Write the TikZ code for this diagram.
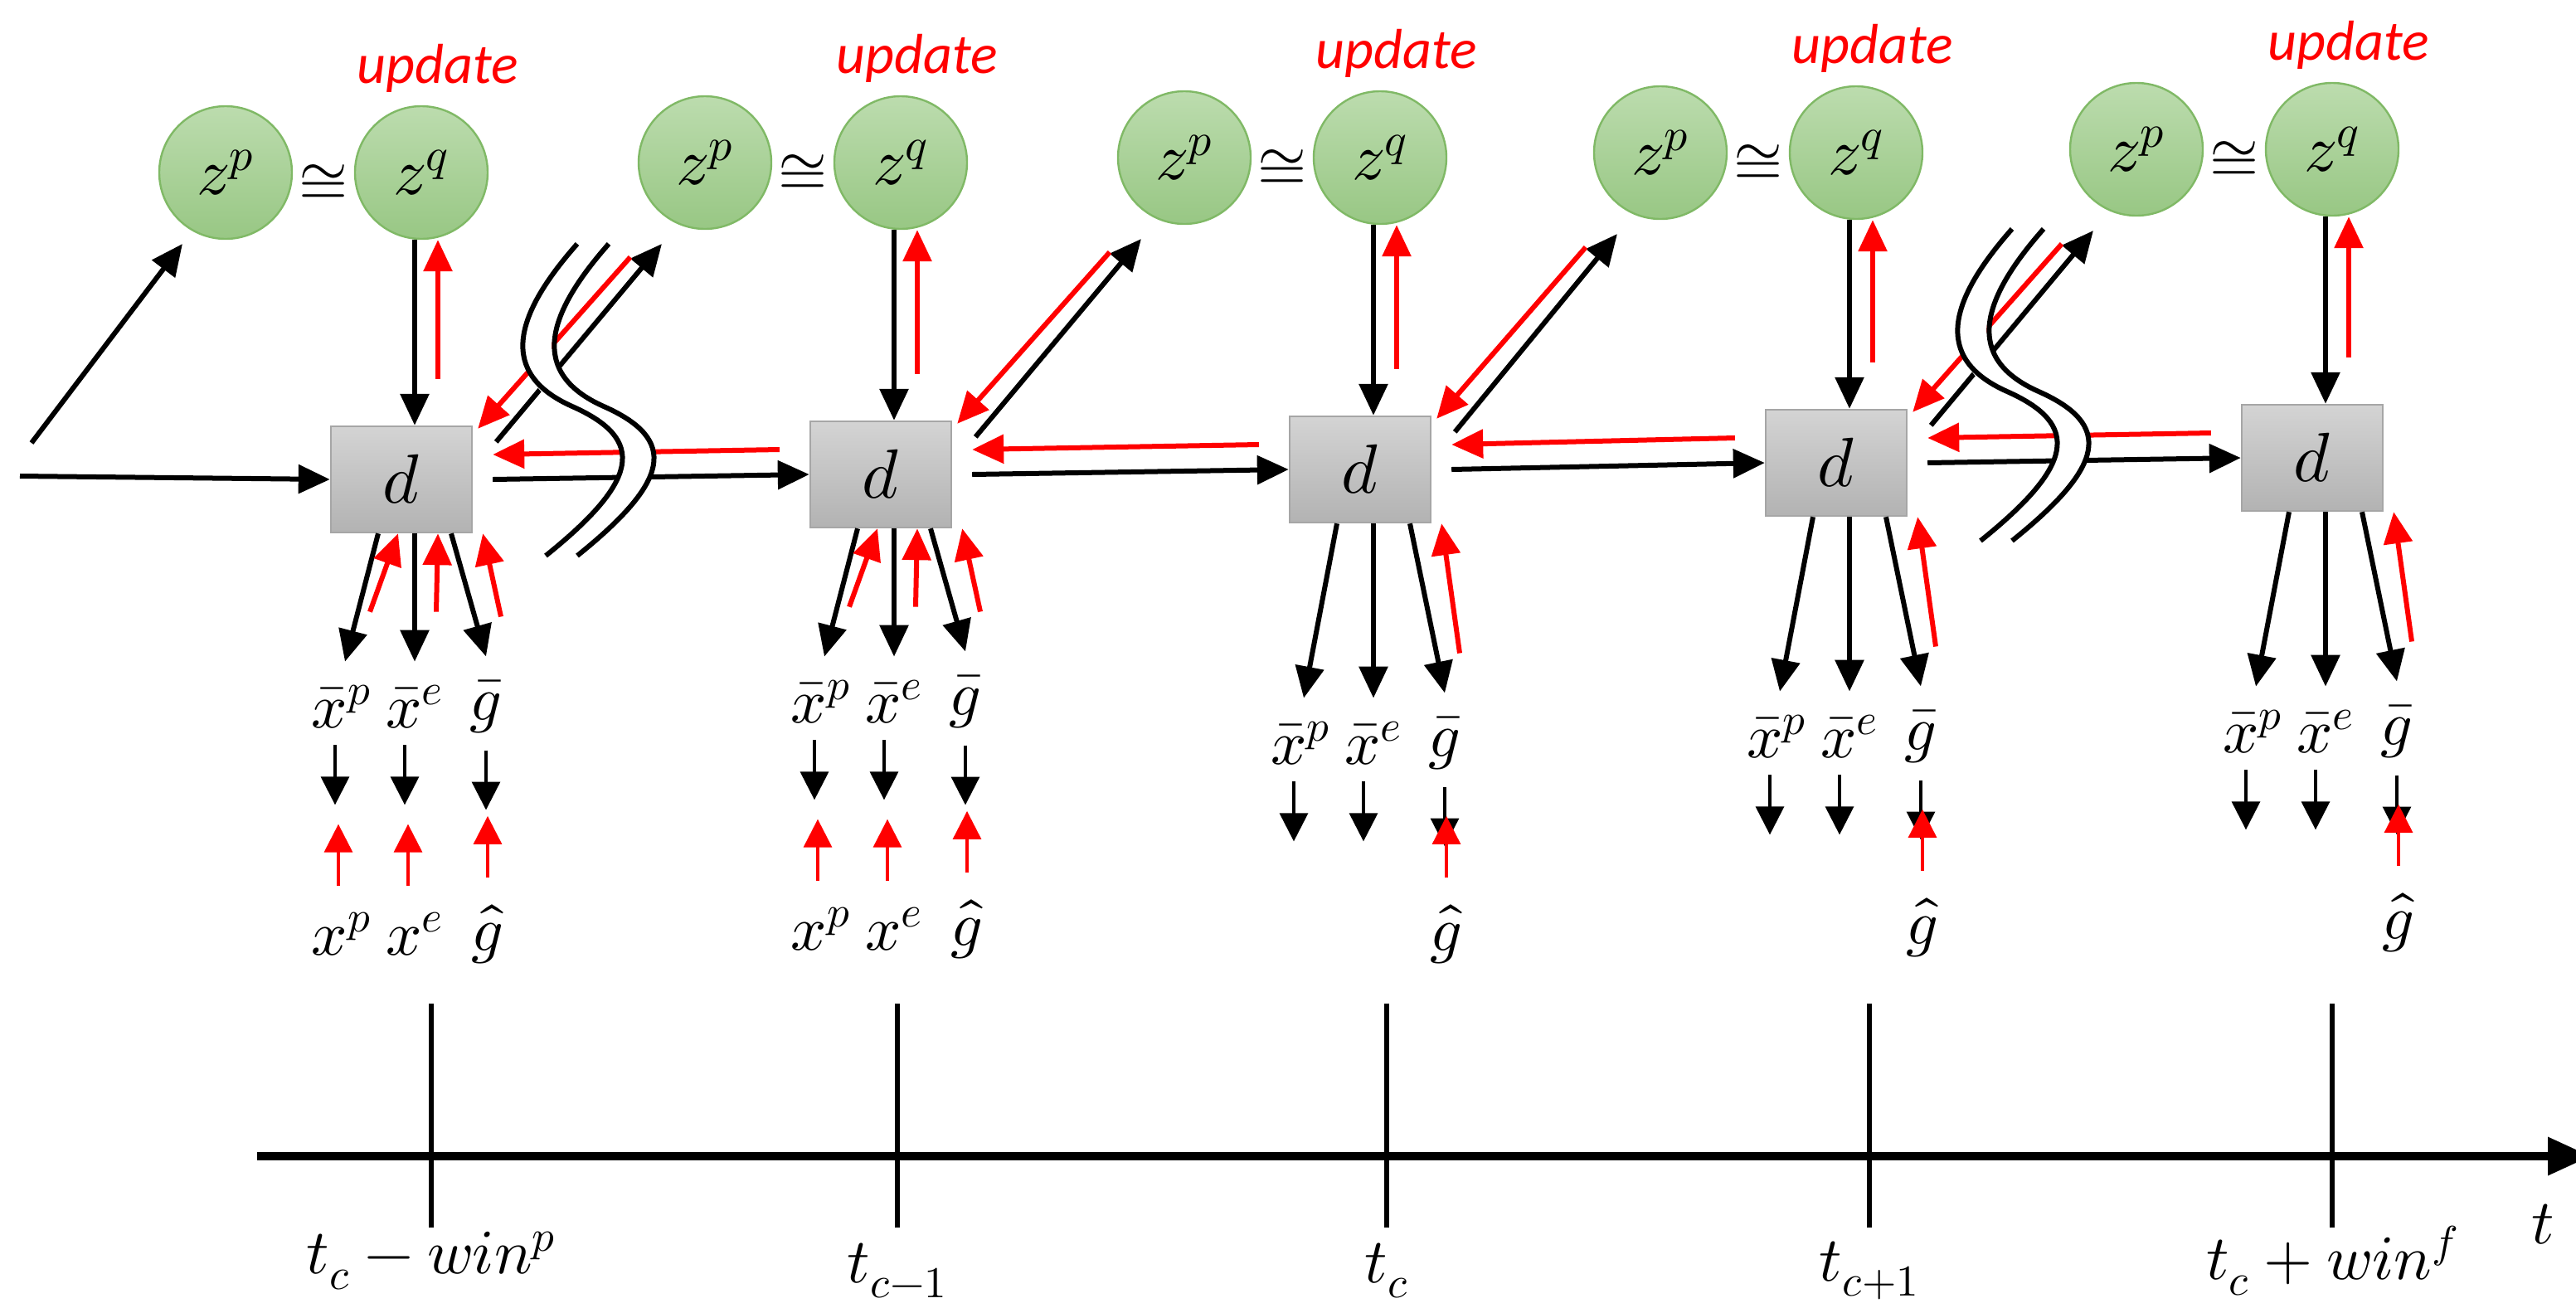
\documentclass[tikz,border=0pt]{standalone}
\usepackage{fontspec}
\usepackage{unicode-math}
\setmathfont{Latin Modern Math}
\usetikzlibrary{arrows.meta,calc}
\newfontfamily\updfont{Carlito}
\definecolor{gtop}{HTML}{BCDCAE}
\definecolor{gbot}{HTML}{98C784}
\definecolor{gbrd}{HTML}{80B966}
\definecolor{myred}{HTML}{FF0000}
\begin{document}
\begin{tikzpicture}[x=1pt,y=-1pt,
  tip/.style={-{Triangle[length=19pt,width=17pt]}},
  stip/.style={-{Triangle[length=17pt,width=17pt]}},
  blk/.style={line width=3pt,black,tip},
  rd/.style={line width=3pt,myred,tip},
  sblk/.style={line width=1.6pt,black,stip},
  srd/.style={line width=1.6pt,myred,stip},
  zn/.style={circle,minimum size=80pt,inner sep=0pt,draw=gbrd,line width=1.2pt,top color=gtop,bottom color=gbot,font=\fontsize{40}{44}\selectfont},
  dn/.style={rectangle,minimum width=85pt,minimum height=64pt,draw=black!35,line width=1.2pt,top color=black!17,bottom color=black!30,font=\fontsize{42}{44}\selectfont},
  lab/.style={inner sep=0pt,font=\fontsize{38}{40}\selectfont},
  upd/.style={inner sep=0pt,myred,font=\updfont\itshape\fontsize{34}{38}\selectfont},
  tl/.style={inner sep=0pt,font=\fontsize{38}{40}\selectfont}]
\useasboundingbox (0,0) rectangle (1553,788);
% columns: index / d x / d y / z y / label offset / full / hat offset
\foreach \i/\dx/\dy/\zy/\lo/\full/\ho in {1/242/289/104/137/1/137,2/531/286/98/137/1/137,3/820/283/95/165/0/115,4/1107/279/92/165/0/115,5/1394/276/90/165/0/115}{
  \node[dn] (d\i) at (\dx,\dy) {$d$};
  \node[zn] (zp\i) at (\dx-106,\zy) {$z^p$};
  \node[zn] (zq\i) at (\dx+12,\zy) {$z^q$};
  \node[lab] (eq\i) at ($(zp\i)!0.5!(zq\i)+(0,6)$) {$\cong$};
  \node[upd] (u\i) at (\dx+22,\zy-63) {update};
  \draw[blk] ($(zq\i.south)+(-4,0)$) -- ($(zq\i.south |- d\i.north)+(-4,0)$);
  \draw[rd] ($(zq\i.south |- d\i.north)+(10,-28)$) -- ($(zq\i.south)+(10,0)$);
  % outputs
  \node[lab] (xp\i) at (\dx-36,\dy+\lo) {$\bar{x}^p$};
  \node[lab] (xe\i) at (\dx+8,\dy+\lo) {$\bar{x}^e$};
  \node[lab] (gb\i) at (\dx+51,\dy+\lo) {$\bar{g}$};
  \draw[blk] ($(d\i.south)+(-14,0)$) -- ($(xp\i.north)+(2,-14)$);
  \draw[blk] ($(d\i.south)+(8,0)$) -- ($(xe\i.north)+(0,-14)$);
  \draw[blk] ($(d\i.south)+(30,0)$) -- ($(gb\i.north)+(0,-14)$);
  \draw[rd] ($(gb\i.north)+(9,-38)$) -- ($(d\i.south east)+(6,0)$);
  \coordinate (ap\i) at ($(xp\i.south)+(-4,10)$);
  \coordinate (ae\i) at ($(xe\i.south)+(-6,10)$);
  \coordinate (ag\i) at ($(gb\i.south)+(0,10)$);
  \draw[sblk] (ap\i) -- ++(0,36);
  \draw[sblk] (ae\i) -- ++(0,36);
  \draw[sblk] (ag\i) -- ++(0,36);
  \node[lab] (gh\i) at ($(gb\i)+(1,\ho)$) {$\hat{g}$};
  \draw[srd] ($(gh\i.north)+(0,-16)$) -- ++(0,-37);
  \ifnum\full=1
    \draw[rd] ($(xp\i.north)+(17,-44)$) -- ($(d\i.south)+(-2,0)$);
    \draw[rd] ($(xe\i.north)+(13,-44)$) -- ($(d\i.south)+(22,0)$);
    \node[lab] (xpp\i) at ($(xp\i)+(0,137)$) {$x^p$};
    \node[lab] (xee\i) at ($(xe\i)+(0,137)$) {$x^e$};
    \draw[srd] ($(xpp\i.north)+(-2,-16)$) -- ++(0,-37);
    \draw[srd] ($(xee\i.north)+(-4,-16)$) -- ++(0,-37);
  \fi
}
% incoming from left
\coordinate (in1) at (12,287);
\coordinate (in2) at (19,267);
\draw[blk] (in1) -- (d1.west);
\draw[blk] (in2) -- ($(zp1)+(-26,43)$);
% links between columns
\foreach \a/\b in {1/2,2/3,3/4,4/5}{
  \draw[blk] ($(d\a.east)+(12,0)$) -- (d\b.west);
  \draw[rd] ($(d\b.west)+(-18,-15)$) -- ($(d\a.east)+(12,-15)$);
  \draw[blk] ($(d\a.north east)+(14,10)$) -- ($(zp\b)+(-26,49)$);
  \draw[rd] ($(zp\b)+(-45,57)$) -- ($(d\a.north east)+(3,2)$);
}
% break marks
\foreach \sx/\sy in {0/0,865/-9}{
  \begin{scope}[shift={(\sx,\sy)}]
    \draw[white,line width=17pt] (357,147) .. controls (319,190) and (309,225) .. (354,245) .. controls (399,265) and (394,290) .. (338,335);
    \draw[black,line width=3pt] (348,147) .. controls (310,190) and (300,225) .. (345,245) .. controls (390,265) and (385,290) .. (329,335);
    \draw[black,line width=3pt] (367,147) .. controls (329,190) and (319,225) .. (364,245) .. controls (409,265) and (404,290) .. (348,335);
  \end{scope}
}
% time axis
\coordinate (ax0) at (155,697);
\coordinate (ax1) at (1562,697);
\draw[line width=5pt,-{Triangle[length=26pt,width=22pt]}] (ax0) -- (ax1);
\foreach \k/\tx/\txt/\ly in {1/260/{$t_c-win^p$}/760,2/541/{$t_{c-1}$}/766,3/836/{$t_c$}/766,4/1127/{$t_{c+1}$}/766,5/1406/{$t_c+win^f$}/760}{
  \coordinate (tk\k) at (\tx,605);
  \draw[line width=3pt] (tk\k) -- ++(0,135);
  \node[tl] (tl\k) at (\tx,\ly) {\txt};
}
\node[tl] (tt) at (1533,738) {$t$};
\end{tikzpicture}
\end{document}
